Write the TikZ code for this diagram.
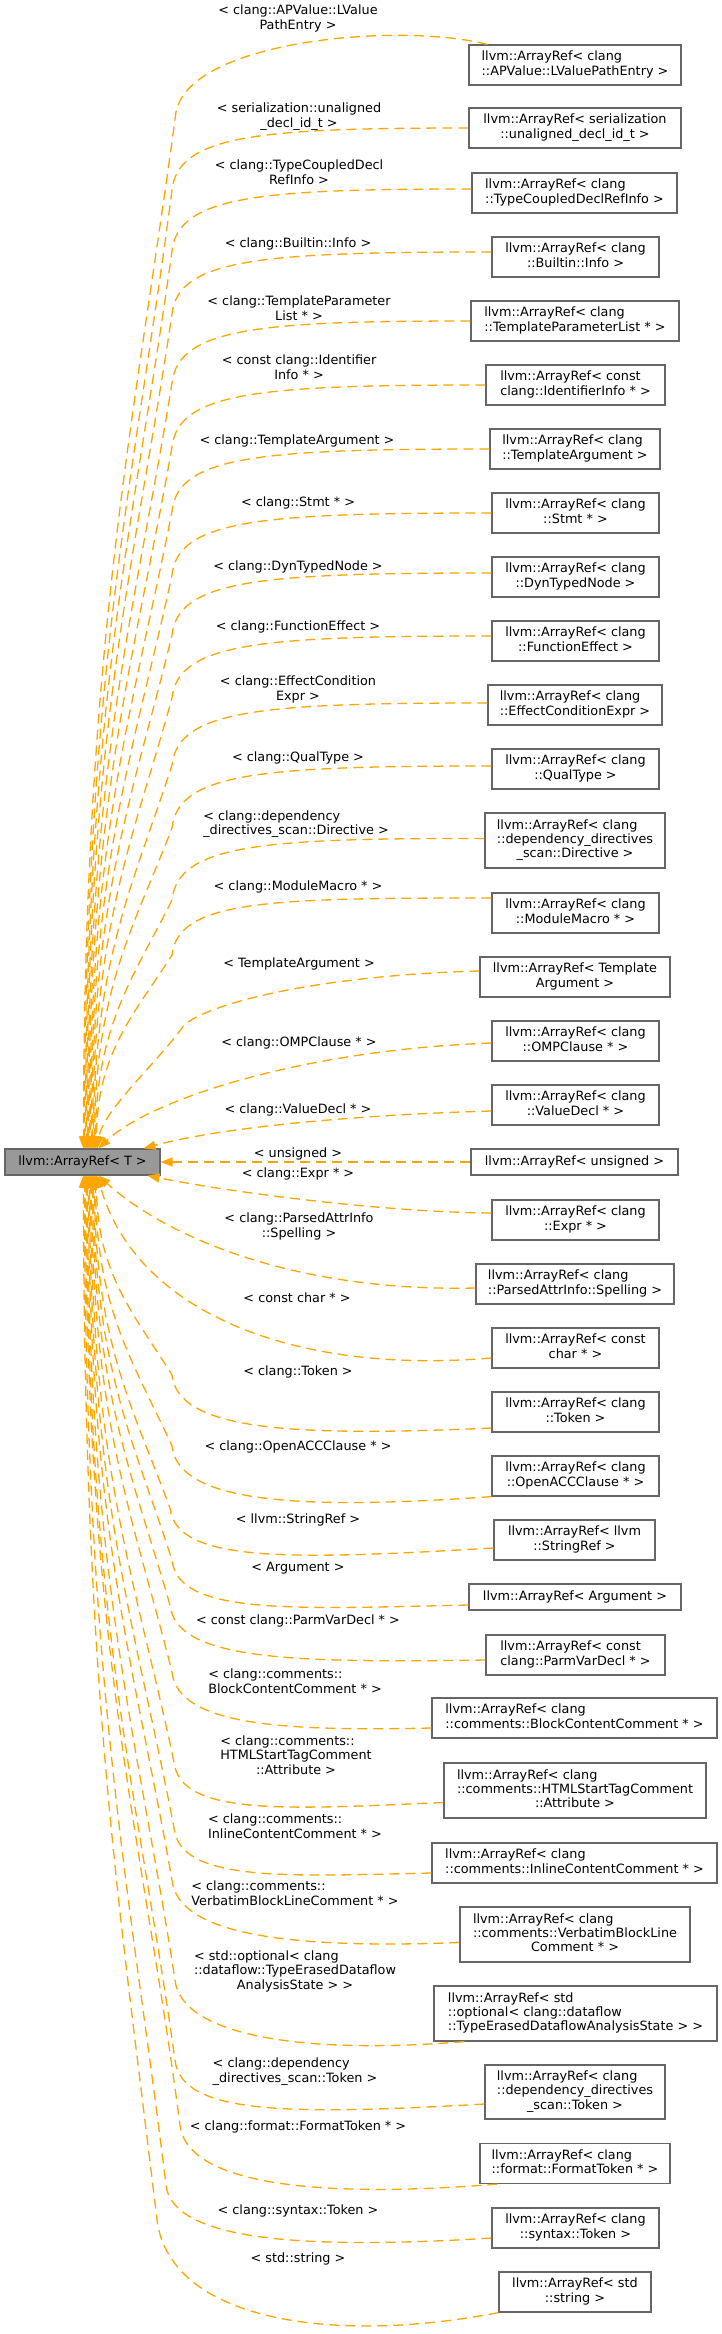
\documentclass[tikz,border=0pt]{standalone}
\usepackage{fontspec}
\setmainfont{DejaVu Sans}
\usetikzlibrary{arrows.meta,calc}
\definecolor{edgeor}{HTML}{FFA500}
\definecolor{boxgray}{HTML}{666666}
\definecolor{maingray}{HTML}{999999}
\newcommand\nf{\fontsize{12.8}{14.3}\selectfont}
\newcommand\tl[2]{\begin{tabular}{@{}l@{}}#1\\\multicolumn{1}{@{}c@{}}{#2}\end{tabular}}
% upper edge: #1 start, #2 start y, #3 knee y, #4 end dx from M.north west, #5 first control x
\newcommand\upedge[5]{%
 \pgfmathsetmacro\dDD{1149-#3}%
 \pgfmathsetmacro\dYa{#3+0.3*\dDD}%
 \pgfmathsetmacro\dYb{1149-0.5*\dDD}%
 \pgfmathsetmacro\dEx{5+#4}%
 \pgfmathsetmacro\dYc{#3-55}%
 \draw[dep] (#1) .. controls (#5,#2) and (178,\dYc) .. (172,#3) .. controls (135,\dYa) and (\dEx,\dYb) .. ($(M.north west)+(#4,0)$);}
% lower edge: #1 start, #2 c1 x, #3 c1 y, #4 knee x, #5 knee y, #6 end dx from M.south west
\newcommand\lowedge[6]{%
 \pgfmathsetmacro\dDD{#5-1175}%
 \pgfmathsetmacro\dYa{#5-0.3*\dDD}%
 \pgfmathsetmacro\dYb{1175+0.5*\dDD}%
 \pgfmathsetmacro\dEx{5+#6}%
 \pgfmathsetmacro\dYc{#5+55}%
 \pgfmathsetmacro\dXc{#4+6}%
 \pgfmathsetmacro\dXd{#4-37}%
 \draw[dep] (#1) .. controls (#2,#3) and (\dXc,\dYc) .. (#4,#5) .. controls (\dXd,\dYa) and (\dEx,\dYb) .. ($(M.south west)+(#6,0)$);}
\begin{document}
\begin{tikzpicture}[x=1pt,y=-1pt,
  box/.style={draw=boxgray, line width=1.2pt, fill=white, inner sep=0pt, minimum height=40pt, font=\nf},
  lbl/.style={inner sep=0pt, font=\nf},
  dep/.style={draw=edgeor, line width=1.3pt, dash pattern=on 10pt off 6pt, -{Triangle[length=12pt,width=9pt]}}]
\useasboundingbox (0,0) rectangle (721,2334);
% main node
\node[box, fill=maingray, minimum width=155pt, minimum height=26pt] (M) at (82.5,1162) {llvm::ArrayRef< T >};
% right column
\node[box, minimum width=212pt] (B1) at (575,65) {\tl{llvm::ArrayRef< clang}{::APValue::LValuePathEntry >}};
\node[box, minimum width=212pt] (B2) at (575,128) {\tl{llvm::ArrayRef< serialization}{::unaligned\_decl\_id\_t >}};
\node[box, minimum width=205pt] (B3) at (574.5,193) {\tl{llvm::ArrayRef< clang}{::TypeCoupledDeclRefInfo >}};
\node[box, minimum width=167pt] (B4) at (575.5,257) {\tl{llvm::ArrayRef< clang}{::Builtin::Info >}};
\node[box, minimum width=208pt] (B5) at (575,321) {\tl{llvm::ArrayRef< clang}{::TemplateParameterList * >}};
\node[box, minimum width=179pt] (B6) at (575.5,385) {\tl{llvm::ArrayRef< const}{clang::IdentifierInfo * >}};
\node[box, minimum width=170pt] (B7) at (575,449) {\tl{llvm::ArrayRef< clang}{::TemplateArgument >}};
\node[box, minimum width=167pt] (B8) at (575.5,513) {\tl{llvm::ArrayRef< clang}{::Stmt * >}};
\node[box, minimum width=167pt] (B9) at (575.5,577) {\tl{llvm::ArrayRef< clang}{::DynTypedNode >}};
\node[box, minimum width=167pt] (B10) at (575.5,641) {\tl{llvm::ArrayRef< clang}{::FunctionEffect >}};
\node[box, minimum width=174pt] (B11) at (575,705) {\tl{llvm::ArrayRef< clang}{::EffectConditionExpr >}};
\node[box, minimum width=167pt] (B12) at (575.5,769) {\tl{llvm::ArrayRef< clang}{::QualType >}};
\node[box, minimum width=180pt, minimum height=55pt] (B13) at (575,840.5) {\tl{llvm::ArrayRef< clang\\::dependency\_directives}{\_scan::Directive >}};
\node[box, minimum width=167pt] (B14) at (575.5,913) {\tl{llvm::ArrayRef< clang}{::ModuleMacro * >}};
\node[box, minimum width=190pt] (B15) at (575,977) {\tl{llvm::ArrayRef< Template}{Argument >}};
\node[box, minimum width=167pt] (B16) at (575.5,1041) {\tl{llvm::ArrayRef< clang}{::OMPClause * >}};
\node[box, minimum width=167pt] (B17) at (575.5,1105) {\tl{llvm::ArrayRef< clang}{::ValueDecl * >}};
\node[box, minimum width=207pt, minimum height=26pt] (B18) at (574.5,1162) {llvm::ArrayRef< unsigned >};
\node[box, minimum width=167pt] (B19) at (575.5,1220) {\tl{llvm::ArrayRef< clang}{::Expr * >}};
\node[box, minimum width=198pt] (B20) at (575,1284) {\tl{llvm::ArrayRef< clang}{::ParsedAttrInfo::Spelling >}};
\node[box, minimum width=167pt] (B21) at (575.5,1348) {\tl{llvm::ArrayRef< const}{char * >}};
\node[box, minimum width=167pt] (B22) at (575.5,1412) {\tl{llvm::ArrayRef< clang}{::Token >}};
\node[box, minimum width=167pt] (B23) at (575.5,1476) {\tl{llvm::ArrayRef< clang}{::OpenACCClause * >}};
\node[box, minimum width=161pt] (B24) at (574.5,1540) {\tl{llvm::ArrayRef< llvm}{::StringRef >}};
\node[box, minimum width=212pt, minimum height=26pt] (B25) at (575,1597) {llvm::ArrayRef< Argument >};
\node[box, minimum width=179pt] (B26) at (575.5,1655) {\tl{llvm::ArrayRef< const}{clang::ParmVarDecl * >}};
\node[box, minimum width=285pt] (B27) at (574.5,1718) {\tl{llvm::ArrayRef< clang}{::comments::BlockContentComment * >}};
\node[box, minimum width=262pt, minimum height=55pt] (B28) at (575,1790.5) {\tl{llvm::ArrayRef< clang\\::comments::HTMLStartTagComment}{::Attribute >}};
\node[box, minimum width=285pt] (B29) at (574.5,1863) {\tl{llvm::ArrayRef< clang}{::comments::InlineContentComment * >}};
\node[box, minimum width=230pt, minimum height=55pt] (B30) at (575,1934.5) {\tl{llvm::ArrayRef< clang\\::comments::VerbatimBlockLine}{Comment * >}};
\node[box, minimum width=283pt, minimum height=55pt] (B31) at (575.5,2013.5) {\tl{llvm::ArrayRef< std\\::optional< clang::dataflow}{::TypeErasedDataflowAnalysisState > >}};
\node[box, minimum width=180pt, minimum height=54pt] (B32) at (575,2092) {\tl{llvm::ArrayRef< clang\\::dependency\_directives}{\_scan::Token >}};
\node[box, minimum width=190pt] (B33) at (575,2163.5) {\tl{llvm::ArrayRef< clang}{::format::FormatToken * >}};
\node[box, minimum width=167pt] (B34) at (575.5,2228) {\tl{llvm::ArrayRef< clang}{::syntax::Token >}};
\node[box, minimum width=152pt] (B35) at (575,2292) {\tl{llvm::ArrayRef< std}{::string >}};
% edges (upper)
\draw[dep] ($(B1.north west)+(19,0)$) .. controls (400,22) and (190,40) .. (176,112) .. controls (135,420) and (84,640) .. ($(M.north west)+(79,0)$);
\upedge{B2.west}{128}{190}{80}{260}
\upedge{$(B3.west)+(0,-4)$}{189}{251}{81}{260}
\upedge{$(B4.west)+(0,-5)$}{252}{314}{82}{260}
\upedge{B5.west}{321}{383}{83}{260}
\upedge{B6.west}{385}{447}{84}{260}
\upedge{B7.west}{449}{511}{85}{260}
\upedge{B8.west}{513}{575}{86}{260}
\upedge{$(B9.west)+(0,-4)$}{573}{635}{87}{260}
\upedge{$(B10.west)+(0,-5)$}{636}{698}{88}{260}
\upedge{$(B11.west)+(0,-2)$}{703}{765}{89}{260}
\upedge{$(B12.west)+(0,-3)$}{766}{828}{90}{260}
\upedge{$(B13.west)+(0,-2)$}{838}{900}{91}{260}
\upedge{$(B14.west)+(0,-15)$}{898}{955}{92}{270}
\draw[dep] ($(B15.west)+(0,-6)$) .. controls (330,975) and (215,1000) .. (184,1025) .. controls (160,1060) and (103,1110) .. ($(M.north west)+(93,0)$);
\draw[dep] ($(B16.west)+(0,2)$) .. controls (300,1050) and (150,1100) .. ($(M.north west)+(94,0)$);
\draw[dep] ($(B17.west)+(0,6)$) .. controls (380,1114) and (230,1125) .. ($(M.north east)+(-17,0)$);
\draw[dep] (B18.west) -- (M.east);
% edges (lower)
\draw[dep] ($(B19.west)+(0,-7)$) .. controls (380,1212) and (230,1192) .. ($(M.south east)+(-13,0)$);
\draw[dep] ($(B20.west)+(0,4)$) .. controls (300,1292) and (170,1240) .. ($(M.south west)+(94,0)$);
\draw[dep] ($(B21.west)+(0,10)$) .. controls (290,1375) and (135,1310) .. ($(M.south west)+(93,0)$);
\lowedge{$(B22.west)+(0,16)$}{290}{1437}{172}{1375}{92}
\lowedge{B23.south west}{290}{1511}{172}{1446}{91}
\lowedge{$(B24.west)+(0,8)$}{290}{1560}{170}{1508}{90}
\lowedge{$(B25.west)+(0,8)$}{290}{1609}{172}{1560}{89}
\lowedge{$(B26.west)+(0,5)$}{290}{1663}{170}{1605}{88}
\lowedge{$(B27.west)+(0,10)$}{290}{1731}{172}{1672}{87}
\lowedge{$(B28.west)+(0,12)$}{290}{1809}{174}{1762}{86}
\lowedge{$(B29.west)+(0,10)$}{290}{1876}{174}{1828}{85}
\lowedge{$(B30.west)+(0,8)$}{290}{1949}{172}{1880}{84}
\lowedge{$(B31.south west)+(31,0)$}{300}{2055}{175}{1980}{83}
\lowedge{$(B32.west)+(0,12)$}{290}{2115}{175}{2060}{82}
\lowedge{$(B33.south west)+(18,0)$}{300}{2200}{180}{2125}{81}
\lowedge{$(B34.west)+(0,10)$}{300}{2250}{166}{2185}{80}
\draw[dep] (B35.south west) .. controls (330,2345) and (170,2320) .. (157,2220) .. controls (120,1907) and (84,1698) .. ($(M.south west)+(79,0)$);
% edge labels
\node[lbl] (L1) at (298,19) {\tl{< clang::APValue::LValue}{PathEntry >}};
\node[lbl] (L2) at (299,117) {\tl{< serialization::unaligned}{\_decl\_id\_t >}};
\node[lbl] (L3) at (299,174) {\tl{< clang::TypeCoupledDecl}{RefInfo >}};
\node[lbl] (L4) at (298,244) {< clang::Builtin::Info >};
\node[lbl] (L5) at (299,310) {\tl{< clang::TemplateParameter}{List * >}};
\node[lbl] (L6) at (299,369) {\tl{< const clang::Identifier}{Info * >}};
\node[lbl] (L7) at (297,441) {< clang::TemplateArgument >};
\node[lbl] (L8) at (298,503) {< clang::Stmt * >};
\node[lbl] (L9) at (298,567) {< clang::DynTypedNode >};
\node[lbl] (L10) at (298,627) {< clang::FunctionEffect >};
\node[lbl] (L11) at (298,690) {\tl{< clang::EffectCondition}{Expr >}};
\node[lbl] (L12) at (298,758) {< clang::QualType >};
\node[lbl] (L13) at (296,824.5) {\tl{< clang::dependency}{\_directives\_scan::Directive >}};
\node[lbl] (L14) at (298,887) {< clang::ModuleMacro * >};
\node[lbl] (L15) at (299,964) {< TemplateArgument >};
\node[lbl] (L16) at (299,1043) {< clang::OMPClause * >};
\node[lbl] (L17) at (298,1110) {< clang::ValueDecl * >};
\node[lbl] (L18) at (298,1154) {< unsigned >};
\node[lbl] (L19) at (298,1174) {< clang::Expr * >};
\node[lbl] (L20) at (299,1227) {\tl{< clang::ParsedAttrInfo}{::Spelling >}};
\node[lbl] (L21) at (297,1298) {< const char * >};
\node[lbl] (L22) at (298,1372) {< clang::Token >};
\node[lbl] (L23) at (298,1447) {< clang::OpenACCClause * >};
\node[lbl] (L24) at (298,1520) {< llvm::StringRef >};
\node[lbl] (L25) at (298,1568) {< Argument >};
\node[lbl] (L26) at (298,1621) {< const clang::ParmVarDecl * >};
\node[lbl] (L27) at (295,1683) {\tl{< clang::comments::}{BlockContentComment * >}};
\node[lbl] (L28) at (296,1757) {\tl{< clang::comments::\\HTMLStartTagComment}{::Attribute >}};
\node[lbl] (L29) at (295,1828) {\tl{< clang::comments::}{InlineContentComment * >}};
\node[lbl] (L30) at (295,1895) {\tl{< clang::comments::}{VerbatimBlockLineComment * >}};
\node[lbl] (L31) at (295,1972) {\tl{< std::optional< clang\\::dataflow::TypeErasedDataflow}{AnalysisState > >}};
\node[lbl] (L32) at (295,2072) {\tl{< clang::dependency}{\_directives\_scan::Token >}};
\node[lbl] (L33) at (298,2127) {< clang::format::FormatToken * >};
\node[lbl] (L34) at (298,2211) {< clang::syntax::Token >};
\node[lbl] (L35) at (298,2259) {< std::string >};
\end{tikzpicture}
\end{document}
